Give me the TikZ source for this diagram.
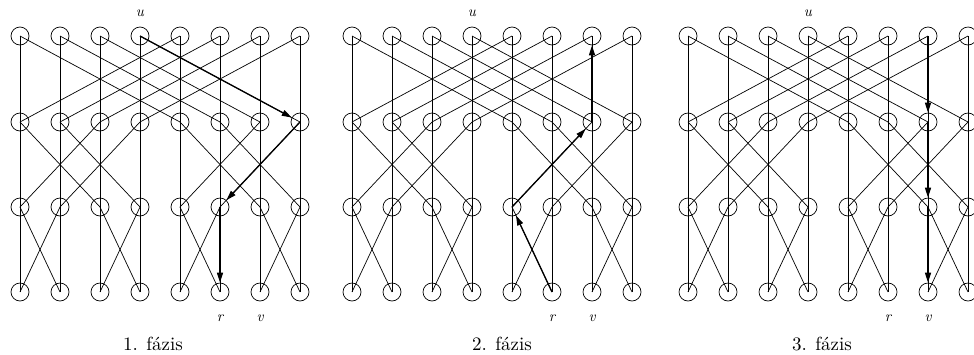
\documentclass[tikz,border=0pt]{standalone}
\usepackage{fontspec}
\setmainfont{lmroman10}[Extension=.otf, UprightFont=*-regular, BoldFont=*-bold, ItalicFont=*-italic]
\usetikzlibrary{arrows.meta}
\begin{document}
\begin{tikzpicture}[x=1pt,y=-1pt,
  vert/.style={circle,draw,line width=0.7pt,minimum size=18pt,inner sep=0pt},
  wire/.style={line width=0.7pt},
  patharrow/.style={line width=1.3pt,-{Triangle[length=10pt,width=6pt]}},
  mlabel/.style={font=\fontsize{15}{17}\selectfont\itshape},
  plabel/.style={font=\fontsize{19}{22}\selectfont}]
\useasboundingbox (0,0) rectangle (974,354);
% nodes
\foreach \p/\x in {1/20,2/352,3/688}{
  \foreach \r/\y in {0/36,1/122,2/207,3/292}{
    \foreach \c in {0,...,7}{
      \node[vert] (p\p-\r-\c) at ({\x+40*\c},\y) {};
    }
  }
}
% butterfly wires
\foreach \p in {1,2,3}{
  \foreach \r/\b in {0/4,1/2,2/1}{
    \pgfmathtruncatemacro\nr{\r+1}
    \foreach \c in {0,...,7}{
      \pgfmathtruncatemacro\j{mod(floor(\c/\b),2)==0 ? \c+\b : \c-\b}
      \draw[wire] (p\p-\r-\c.center) -- (p\p-\nr-\c.center);
      \draw[wire] (p\p-\r-\c.center) -- (p\p-\nr-\j.center);
    }
  }
}
% highlighted paths
\draw[patharrow] (p1-0-3.center) -- (p1-1-7);
\draw[patharrow] (p1-1-7.center) -- (p1-2-5);
\draw[patharrow] (p1-2-5.center) -- (p1-3-5);
\draw[patharrow] (p2-3-5.center) -- (p2-2-4);
\draw[patharrow] (p2-2-4.center) -- (p2-1-6);
\draw[patharrow] (p2-1-6.center) -- (p2-0-6);
\draw[patharrow] (p3-0-6.center) -- (p3-1-6);
\draw[patharrow] (p3-1-6.center) -- (p3-2-6);
\draw[patharrow] (p3-2-6.center) -- (p3-3-6);
% labels
\foreach \p in {1,2,3}{
  \node[mlabel] (u\p) at ([yshift=23pt]p\p-0-3.center) {u};
  \node[mlabel] (r\p) at ([yshift=-26pt]p\p-3-5.center) {r};
  \node[mlabel] (v\p) at ([yshift=-26pt]p\p-3-6.center) {v};
}
\node[plabel] (f1) at (153,344) {1. fázis};
\node[plabel] (f2) at (502,344) {2. fázis};
\node[plabel] (f3) at (822,344) {3. fázis};
\end{tikzpicture}
\end{document}
